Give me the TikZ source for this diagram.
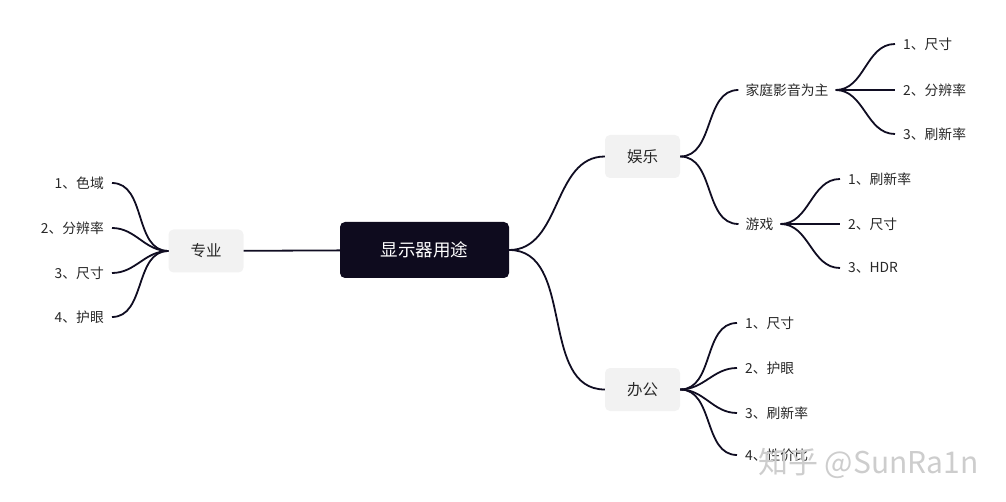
\documentclass[tikz,border=0pt]{standalone}
\usepackage{fontspec}
\usetikzlibrary{positioning}
\newfontfamily\cjk{Noto Sans CJK SC}
\definecolor{ink}{RGB}{16,13,34}
\definecolor{rootfill}{RGB}{14,11,30}
\definecolor{topicfill}{RGB}{242,242,242}
\definecolor{txt}{RGB}{40,40,40}
\definecolor{mark}{RGB}{205,205,205}

\begin{document}
\begin{tikzpicture}[x=1pt, y=-1pt,
  every node/.style={font=\cjk\fontsize{13.8}{16}\selectfont, text=txt},
  rootbox/.style={fill=rootfill, rounded corners=5pt, minimum width=169pt, minimum height=56pt, inner sep=0pt, text=white, font=\cjk\fontsize{17.5}{20}\selectfont},
  topicbox/.style={fill=topicfill, rounded corners=5pt, minimum width=75pt, minimum height=43pt, inner sep=0pt, font=\cjk\fontsize{15.5}{18}\selectfont},
  subtext/.style={inner xsep=7pt, inner ysep=2pt},
  leaftext/.style={inner xsep=8pt, inner ysep=2pt},
  link/.style={draw=ink, line width=1.8pt}]
\useasboundingbox (0,0) rectangle (1006,502);
\node[rootbox] (use) at (424.5,250) {显示器用途};
\node[topicbox] (pro) at (206,251) {专业};
\node[topicbox] (fun) at (642.5,156.5) {娱乐};
\node[topicbox] (work) at (642.5,389.5) {办公};
\node[leaftext, anchor=east] (p1) at (112,183) {1、色域};
\node[leaftext, anchor=east] (p2) at (112,228) {2、分辨率};
\node[leaftext, anchor=east] (p3) at (112,273) {3、尺寸};
\node[leaftext, anchor=east] (p4) at (112,317) {4、护眼};
\node[subtext] (home) at (787,90) {家庭影音为主};
\node[subtext] (game) at (759.5,224) {游戏};
\node[leaftext, anchor=west] (h1) at (895,44) {1、尺寸};
\node[leaftext, anchor=west] (h2) at (895,90) {2、分辨率};
\node[leaftext, anchor=west] (h3) at (895,134) {3、刷新率};
\node[leaftext, anchor=west] (g1) at (840,179) {1、刷新率};
\node[leaftext, anchor=west] (g2) at (840,224) {2、尺寸};
\node[leaftext, anchor=west] (g3) at (840,268) {3、HDR};
\node[leaftext, anchor=west] (w1) at (737,323) {1、尺寸};
\node[leaftext, anchor=west] (w2) at (737,368) {2、护眼};
\node[leaftext, anchor=west] (w3) at (737,413) {3、刷新率};
\node[leaftext, anchor=west] (w4) at (737,455) {4、性价比};
\draw[link] (pro) -- (use);
\draw[link] (use.east) to[out=0, in=180] (fun.west);
\draw[link] (use.east) to[out=0, in=180] (work.west);
\foreach \leaf in {p1,p2,p3,p4}
  \draw[link] (\leaf.east) to[out=0, in=180] (pro.west);
\draw[link] (fun.east) to[out=0, in=180] (home.west);
\draw[link] (fun.east) to[out=0, in=180] (game.west);
\foreach \leaf in {h1,h2,h3}
  \draw[link] (home.east) to[out=0, in=180] (\leaf.west);
\foreach \leaf in {g1,g2,g3}
  \draw[link] (game.east) to[out=0, in=180] (\leaf.west);
\foreach \leaf in {w1,w2,w3,w4}
  \draw[link] (work.east) to[out=0, in=180] (\leaf.west);
\node[anchor=west, text=mark, inner sep=0pt, font=\cjk\fontsize{30}{34}\selectfont] (wm) at (758,463) {知乎 @SunRa1n};
\end{tikzpicture}
\end{document}
